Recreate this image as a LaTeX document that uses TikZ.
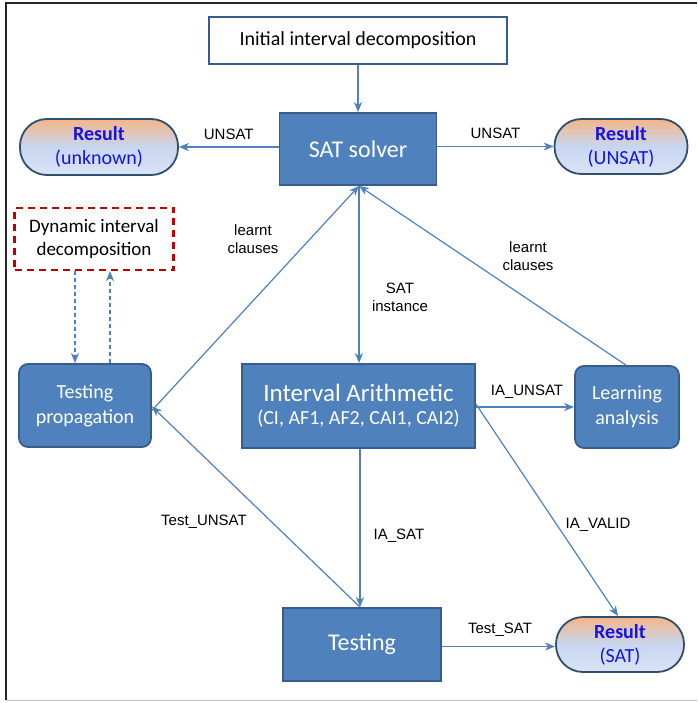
\documentclass[tikz,border=0pt]{standalone}
\usepackage{fontspec}
\setmainfont{Carlito}
\newfontfamily\lblfont{Liberation Sans}
\usetikzlibrary{arrows.meta}
\definecolor{boxfill}{RGB}{79,129,189}
\definecolor{boxline}{RGB}{56,93,138}
\definecolor{conn}{RGB}{79,129,189}
\definecolor{capline}{RGB}{47,79,111}
\definecolor{restop}{RGB}{244,182,135}
\definecolor{resmid}{RGB}{200,214,240}
\definecolor{resbot}{RGB}{218,228,245}
\definecolor{resblue}{RGB}{20,20,225}
\definecolor{dynred}{RGB}{192,0,0}
\tikzset{
  bluebox/.style={draw=boxline, line width=1.8pt, fill=boxfill, text=white, align=center, inner sep=0pt},
  roundbox/.style={bluebox, rounded corners=9pt},
  resultbox/.style={draw=capline, line width=1.8pt, rounded corners=27pt, top color=restop, bottom color=resbot, middle color=resmid, align=center, inner sep=0pt, text=resblue, font=\fontsize{20}{22}\selectfont},
  initbox/.style={draw=boxline, line width=1.4pt, fill=white, align=center, inner sep=0pt, font=\fontsize{20}{24}\selectfont},
  dynbox/.style={draw=dynred, line width=2.2pt, dash pattern=on 7pt off 5pt, fill=white, align=center, inner sep=0pt, font=\fontsize{19}{23}\selectfont},
  link/.style={draw=conn, line width=1.2pt, -{Stealth[length=10pt,width=8pt,inset=3pt]}},
  dlink/.style={link, dash pattern=on 4pt off 3pt},
  lbl/.style={font=\lblfont\fontsize{15}{18}\selectfont, align=center, inner sep=0pt, text=black},
}
\begin{document}
\begin{tikzpicture}[x=1pt,y=-1pt]
\useasboundingbox (0,0) rectangle (697,703);
% frame
\draw[line width=1.5pt, black!85] (697,3) -- (6,3) -- (6,700);
\draw[line width=1pt, black!25] (6,700) -- (697,700);

% nodes
\node[initbox, minimum width=298pt, minimum height=47pt] (init) at (358,40.5) {Initial interval decomposition};
\node[bluebox, minimum width=157pt, minimum height=72pt, font=\fontsize{24}{28}\selectfont] (sat) at (358,149) {SAT solver};
\node[resultbox, minimum width=158pt, minimum height=56pt] (resU) at (99,147) {\textbf{Result}\\[2pt](unknown)};
\node[resultbox, minimum width=133pt, minimum height=55pt] (resN) at (621,146.5) {\textbf{Result}\\[2pt](UNSAT)};
\node[dynbox, minimum width=159pt, minimum height=62pt] (dyn) at (94,239) {Dynamic interval\\decomposition};
\node[roundbox, minimum width=132pt, minimum height=83pt, font=\fontsize{20}{25}\selectfont] (tp) at (85,405.5) {Testing\\propagation};
\node[bluebox, minimum width=233pt, minimum height=84pt] (ia) at (358.5,406) {{\fontsize{25}{28}\selectfont Interval Arithmetic}\\[7pt]{\fontsize{20}{23}\selectfont (CI, AF1, AF2, CAI1, CAI2)}};
\node[roundbox, minimum width=104pt, minimum height=82pt, font=\fontsize{20}{25}\selectfont] (la) at (627,407) {Learning\\analysis};
\node[bluebox, minimum width=158pt, minimum height=73pt, font=\fontsize{24}{28}\selectfont] (test) at (362,644.5) {Testing};
\node[resultbox, minimum width=128pt, minimum height=55pt] (resS) at (620,644.5) {\textbf{Result}\\[2pt](SAT)};

% helper coordinates
\coordinate (satB) at ([xshift=1pt]sat.south);
\coordinate (testT) at ([xshift=-2pt]test.north);
\coordinate (iaB) at (testT |- ia.south);

% connectors
\draw[link] (init.south) -- (sat.north);
\draw[link] (sat.west |- resU.east) -- node[lbl, above=7pt] {UNSAT} (resU.east);
\draw[link] (sat.east |- resN.west) -- node[lbl, above=7pt] {UNSAT} (resN.west);
\draw[link] (satB) -- (satB |- ia.north);
\draw[link] ([yshift=-5pt]tp.east) -- (satB);
\draw[link] ([xshift=-1pt]la.north) -- (satB);
\draw[link] (ia.east |- la.west) -- (la.west);
\draw[link] ([yshift=2pt]ia.east) -- ([xshift=-2pt]resS.north);
\draw[link] (iaB) -- (testT);
\draw[link] (testT) -- ([yshift=-1pt]tp.east);
\draw[link] ([yshift=-2pt]test.east) -- ([yshift=-2pt]test.east -| resS.west);
\draw[dlink] (dyn.south -| 75,0) -- (tp.north -| 75,0);
\draw[dlink] (tp.north -| 110,0) -- (dyn.south -| 110,0);

% labels
\node[lbl] (l1) at (253,239) {learnt\\clauses};
\node[lbl] (l2) at (528,256) {learnt\\clauses};
\node[lbl] (l3) at (400,297) {SAT\\instance};
\node[lbl] (l4) at (527,392) {IA\_UNSAT};
\node[lbl] (l5) at (598,525) {IA\_VALID};
\node[lbl] (l6) at (399,536) {IA\_SAT};
\node[lbl] (l7) at (204,522) {Test\_UNSAT};
\node[lbl] (l8) at (500,630) {Test\_SAT};
\end{tikzpicture}
\end{document}
